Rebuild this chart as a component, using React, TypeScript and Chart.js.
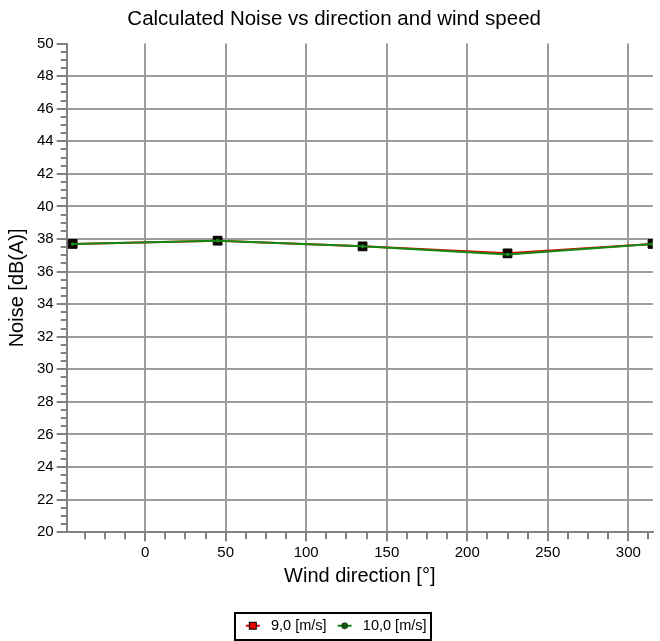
import React, { useEffect, useRef } from 'react';
import { Chart, registerables } from 'chart.js';

Chart.register(...registerables);

const chartTitle = 'Calculated Noise vs direction and wind speed';
const xAxisTitle = 'Wind direction [°]';
const yAxisTitle = 'Noise [dB(A)]';
const seriesLabels = ['9,0 [m/s]', '10,0 [m/s]'];
const directions = [-45, 45, 135, 225, 315];
const noiseAt9 = [37.7, 37.9, 37.55, 37.12, 37.7];
const noiseAt10 = [37.7, 37.9, 37.55, 37.05, 37.7];
const xTickValues = [0, 50, 100, 150, 200, 250, 300];
const yTickValues = [20, 22, 24, 26, 28, 30, 32, 34, 36, 38, 40, 42, 44, 46, 48, 50];
const xMin = -48.7;
const xMax = 315.2;
const yMin = 20;
const yMax = 50;
const xMinorStep = 12.5;
const yMinorStep = 0.5;

const FONT = '"Liberation Sans", Arial, sans-serif';
const AXIS = '#828282';
const GRID = '#9c9c9c';
const RED = '#e00000';
const GREEN = '#128a12';

function makeMarker(kind: 'square' | 'circle'): HTMLCanvasElement {
  const c = document.createElement('canvas');
  c.width = 16;
  c.height = 10;
  const g = c.getContext('2d')!;
  g.lineWidth = 2;
  g.strokeStyle = kind === 'square' ? RED : GREEN;
  g.beginPath();
  g.moveTo(1, 5);
  g.lineTo(15, 5);
  g.stroke();
  if (kind === 'square') {
    g.fillStyle = RED;
    g.fillRect(4.5, 1.5, 7, 7);
    g.lineWidth = 1;
    g.strokeStyle = '#000';
    g.strokeRect(4.5, 1.5, 7, 7);
  } else {
    g.fillStyle = '#0c5a0c';
    g.beginPath();
    g.arc(8, 5, 3, 0, Math.PI * 2);
    g.fill();
    g.lineWidth = 1;
    g.strokeStyle = '#053005';
    g.stroke();
  }
  return c;
}

const minorTicks = {
  id: 'minorTicks',
  afterDraw(chart: any) {
    const { ctx, chartArea, scales } = chart;
    const x = scales.x;
    const y = scales.y;
    ctx.save();
    ctx.strokeStyle = AXIS;
    ctx.lineWidth = 2;
    ctx.beginPath();
    for (let v = Math.ceil(xMin / xMinorStep) * xMinorStep; v <= xMax; v += xMinorStep) {
      if (xTickValues.includes(v)) continue;
      const px = Math.round(x.getPixelForValue(v));
      ctx.moveTo(px, chartArea.bottom);
      ctx.lineTo(px, chartArea.bottom + 7);
    }
    for (let v = yMin; v <= yMax; v += yMinorStep) {
      if (yTickValues.includes(v)) continue;
      const py = Math.round(y.getPixelForValue(v));
      ctx.moveTo(chartArea.left - 6, py);
      ctx.lineTo(chartArea.left, py);
    }
    ctx.stroke();
    ctx.restore();
  },
};

const legendFrame = {
  id: 'legendFrame',
  afterDraw(chart: any) {
    const boxes = chart.legend && chart.legend.legendHitBoxes;
    if (!boxes || !boxes.length) return;
    const left = Math.min(...boxes.map((b: any) => b.left)) - 7;
    const right = Math.max(...boxes.map((b: any) => b.left + b.width)) + 4;
    const top = Math.min(...boxes.map((b: any) => b.top)) - 6;
    const bottom = Math.max(...boxes.map((b: any) => b.top + b.height)) + 6;
    const { ctx } = chart;
    ctx.save();
    ctx.strokeStyle = '#000';
    ctx.lineWidth = 2;
    ctx.strokeRect(Math.round(left), Math.round(top), Math.round(right - left), Math.round(bottom - top));
    ctx.restore();
  },
};

export default function App() {
  const ref = useRef<HTMLCanvasElement | null>(null);

  useEffect(() => {
    if (!ref.current) return;
    const markers = [makeMarker('square'), makeMarker('circle')];
    const chart = new Chart(ref.current, {
      type: 'line',
      data: {
        datasets: [
          {
            label: seriesLabels[0],
            data: directions.map((d, i) => ({ x: d, y: noiseAt9[i] })),
            borderColor: RED,
            backgroundColor: RED,
            borderWidth: 2,
            pointStyle: 'rect',
            pointRadius: 6.2,
            pointBackgroundColor: '#140404',
            pointBorderColor: '#000',
            pointBorderWidth: 1,
            tension: 0,
            order: 2,
          },
          {
            label: seriesLabels[1],
            data: directions.map((d, i) => ({ x: d, y: noiseAt10[i] })),
            borderColor: GREEN,
            backgroundColor: GREEN,
            borderWidth: 2,
            pointStyle: 'circle',
            pointRadius: 1.8,
            pointBackgroundColor: '#1f9a1f',
            pointBorderColor: '#0a4a0a',
            pointBorderWidth: 0.5,
            tension: 0,
            order: 1,
          },
        ],
      },
      options: {
        animation: false,
        responsive: false,
        maintainAspectRatio: false,
        layout: { padding: { left: 12, right: 3.7, top: 0, bottom: -2 } },
        plugins: {
          tooltip: { enabled: false },
          title: {
            display: true,
            text: chartTitle,
            color: '#000',
            font: { family: FONT, size: 20.5, weight: 'normal' },
            padding: { top: 7, bottom: 12 },
          },
          legend: {
            display: true,
            position: 'bottom',
            labels: {
              usePointStyle: true,
              pointStyleWidth: 22,
              padding: 7,
              color: '#000',
              font: { family: FONT, size: 14.5 },
              sort: (a: any, b: any) => a.datasetIndex - b.datasetIndex,
              generateLabels: (c: any) =>
                c.data.datasets.map((ds: any, i: number) => ({
                  text: ds.label,
                  datasetIndex: i,
                  pointStyle: markers[i],
                  fillStyle: ds.borderColor,
                  strokeStyle: ds.borderColor,
                  lineWidth: 0,
                  hidden: false,
                  fontColor: '#000',
                })),
            },
          },
        },
        scales: {
          x: {
            type: 'linear',
            min: xMin,
            max: xMax,
            afterFit: (s: any) => {
              s.height = 79.3;
            },
            afterBuildTicks: (s: any) => {
              s.ticks = xTickValues.map((v) => ({ value: v }));
            },
            ticks: {
              color: '#000',
              font: { family: FONT, size: 15 },
              padding: 3,
              maxRotation: 0,
              autoSkip: false,
              callback: (v: any) => String(v),
            },
            grid: {
              color: GRID,
              lineWidth: 2,
              tickColor: AXIS,
              tickLength: 9,
              tickWidth: 2,
            },
            border: { display: true, color: AXIS, width: 2 },
            title: {
              display: true,
              text: xAxisTitle,
              color: '#000',
              font: { family: FONT, size: 20 },
              padding: { top: 0, bottom: 23 },
            },
          },
          y: {
            type: 'linear',
            min: yMin,
            max: yMax,
            afterFit: (s: any) => {
              s.width = 54.7;
            },
            afterBuildTicks: (s: any) => {
              s.ticks = yTickValues.map((v) => ({ value: v }));
            },
            ticks: {
              color: '#000',
              font: { family: FONT, size: 15 },
              padding: 3,
              autoSkip: false,
              callback: (v: any) => String(v),
            },
            grid: {
              color: (c: any) => (c.tick && c.tick.value === yMax ? 'rgba(0,0,0,0)' : GRID),
              lineWidth: 2,
              tickColor: AXIS,
              tickLength: 10,
              tickWidth: 2,
            },
            border: { display: true, color: AXIS, width: 2 },
            title: {
              display: true,
              text: yAxisTitle,
              color: '#000',
              font: { family: FONT, size: 20 },
              padding: { top: -7, bottom: 0 },
            },
          },
        },
      },
      plugins: [minorTicks, legendFrame],
    });
    return () => chart.destroy();
  }, []);

  return (
    <div style={{ position: 'fixed', left: 0, top: 0, width: 660, height: 641, background: '#fff' }}>
      <canvas ref={ref} width={660} height={641} style={{ display: 'block' }} />
    </div>
  );
}
